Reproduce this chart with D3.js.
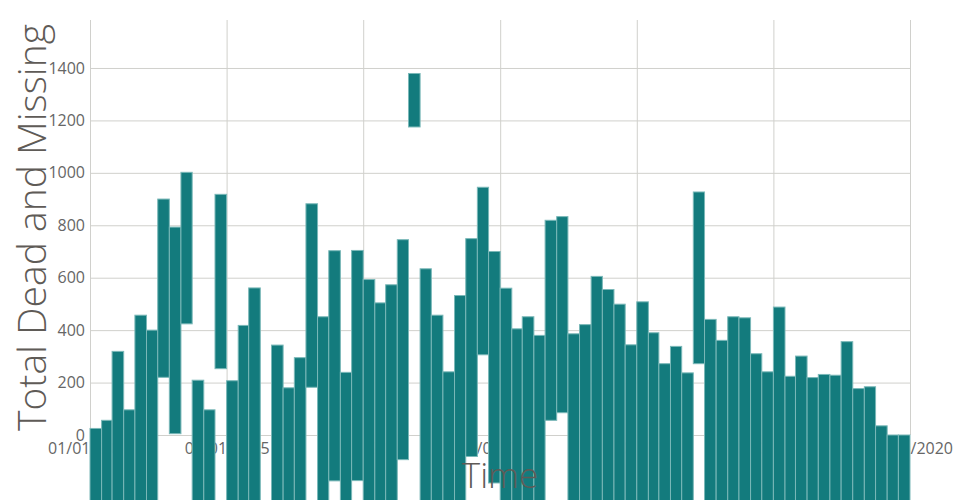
<!DOCTYPE html>
<html>
<head>
<meta charset="utf-8">
<script src="https://cdn.jsdelivr.net/npm/d3@7"></script>
<style>
  body { margin: 0; background: #fff; }
  svg { display: block; }
</style>
</head>
<body>
<svg id="chart" width="960" height="500"></svg>
<script>
// Monthly bars, Jan 2014 .. Dec 2019
const months = d3.timeMonth.range(new Date(2014, 0, 1), new Date(2020, 0, 1));

// Top of each bar (Total Dead and Missing)
const tops = [
  25, 56, 319, 96, 457, 400, 900, 793, 1002, 209, 96, 918,
  207, 418, 561, null, 343, 180, 295, 882, 451, 703, 239, 704,
  593, 504, 573, 745, 1379, 634, 457, 241, 532, 749, 945, 700,
  560, 405, 451, 380, 819, 833, 386, 421, 605, 555, 499, 344,
  508, 390, 272, 338, 237, 927, 441, 361, 451, 447, 310, 241,
  488, 224, 301, 219, 231, 228, 356, 177, 184, 35, 0, 0
];

// Lower end of each bar, in the same units (below the frame where not visible)
const bases = [
  -400, -400, -400, -400, -400, -400, 220, 5, 424, -400, -400, 253,
  -400, -400, -400, null, -400, -400, -400, 182, -400, -175, -400, -174,
  -400, -400, -400, -94, 1175, -400, -400, -400, -400, -82, 306, -183,
  -400, -400, -400, -400, 56, 85, -400, -400, -400, -400, -400, -400,
  -400, -400, -400, -400, -400, 272, -400, -400, -400, -400, -400, -400,
  -400, -400, -400, -400, -400, -400, -400, -400, -400, -400, -400, -400
];

const yTicks = [0, 200, 400, 600, 800, 1000, 1200, 1400];
const yMax = 1583;
const xTickDates = d3.timeYear.range(new Date(2014, 0, 1), new Date(2020, 0, 2));

const margin = {top: 20, right: 50, bottom: 65, left: 90};
const W = 960, H = 500;
const iw = W - margin.left - margin.right;
const ih = H - margin.top - margin.bottom;

const svg = d3.select("#chart");
const g = svg.append("g").attr("transform", `translate(${margin.left},${margin.top})`);

const x = d3.scaleTime()
  .domain([new Date(2014, 0, 1), new Date(2020, 0, 1)])
  .range([0, iw]);
const y = d3.scaleLinear().domain([0, yMax]).range([ih, 0]);

const FONT = "'Open Sans', 'Noto Sans', sans-serif";
const gridColor = "#d0d0cc";
const tickColor = "#666";
const titleColor = "#5f5b57";

// x axis with vertical gridlines
const xAxis = g.append("g")
  .attr("transform", `translate(0,${ih})`)
  .call(d3.axisBottom(x).tickValues(xTickDates)
    .tickFormat(d3.timeFormat("%m/%d/%Y"))
    .tickSizeInner(-ih).tickSizeOuter(0).tickPadding(8));
xAxis.select(".domain").remove();
xAxis.selectAll(".tick line").attr("stroke", gridColor);
xAxis.selectAll(".tick text")
  .attr("fill", tickColor).style("font-family", FONT).style("font-size", "16px");

// y axis with horizontal gridlines
const yAxis = g.append("g")
  .call(d3.axisLeft(y).tickValues(yTicks).tickFormat(d3.format("d"))
    .tickSizeInner(-iw).tickSizeOuter(0).tickPadding(5));
yAxis.select(".domain").remove();
yAxis.selectAll(".tick line").attr("stroke", gridColor);
yAxis.selectAll(".tick text")
  .attr("fill", tickColor).style("font-family", FONT).style("font-size", "16px");

// Axis titles
svg.append("text")
  .attr("transform", `translate(46,${margin.top + ih / 2}) rotate(-90)`)
  .attr("text-anchor", "middle")
  .attr("fill", titleColor)
  .style("font-family", FONT).style("font-weight", 300).style("font-size", "39px")
  .text("Total Dead and Missing");

svg.append("text")
  .attr("x", margin.left + iw / 2)
  .attr("y", 488)
  .attr("text-anchor", "middle")
  .attr("fill", titleColor)
  .style("font-family", FONT).style("font-weight", 300).style("font-size", "35px")
  .text("Time");

// Bars
const data = months.map((m, i) => ({date: m, top: tops[i], base: bases[i]}))
  .filter(d => d.top !== null);

g.append("g").selectAll("rect")
  .data(data)
  .join("rect")
  .attr("x", d => x(d.date))
  .attr("width", d => x(d3.timeMonth.offset(d.date, 1)) - x(d.date))
  .attr("y", d => y(Math.max(d.top, d.base)))
  .attr("height", d => Math.abs(y(d.base) - y(d.top)))
  .attr("fill", "#137b7d")
  .attr("stroke", "#7ab8b8")
  .attr("stroke-width", 1);
</script>
</body>
</html>
